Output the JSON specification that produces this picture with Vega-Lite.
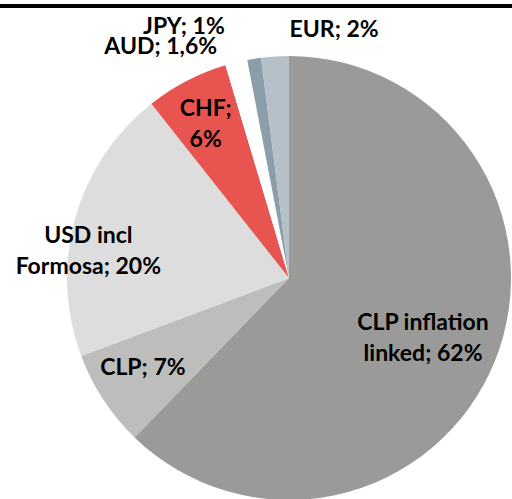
{
  "$schema": "https://vega.github.io/schema/vega-lite/v6.json",
  "padding": 0,
  "bounds": "flush",
  "spacing": 48,
  "config": {"view": {"stroke": null}},
  "datasets": {
    "shares": [
      {"k": 1, "currency": "CLP inflation linked", "share": 62, "label": "CLP inflation\nlinked; 62%"},
      {"k": 2, "currency": "CLP", "share": 7, "label": "CLP; 7%"},
      {"k": 3, "currency": "USD incl Formosa", "share": 20, "label": "USD incl\nFormosa; 20%"},
      {"k": 4, "currency": "CHF", "share": 6, "label": "CHF;\n6%"},
      {"k": 5, "currency": "AUD", "share": 1.6, "label": "AUD; 1,6%"},
      {"k": 6, "currency": "JPY", "share": 1, "label": "JPY; 1%"},
      {"k": 7, "currency": "EUR", "share": 2, "label": "EUR; 2%"}
    ]
  },
  "vconcat": [
    {
      "width": 512,
      "height": 4,
      "view": {"fill": "#000000", "stroke": null},
      "data": {"values": [{}]},
      "mark": {"type": "text", "text": ""}
    },
    {
      "spacing": 0,
      "bounds": "flush",
      "hconcat": [
        {
          "width": 67,
          "height": 444,
          "data": {"values": [{}]},
          "mark": {"type": "text", "text": ""}
        },
        {
          "width": 444,
          "height": 444,
          "data": {"name": "shares"},
          "encoding": {
            "theta": {"field": "share", "type": "quantitative", "stack": true},
            "order": {"field": "k", "type": "quantitative"}
          },
          "layer": [
            {
              "mark": {"type": "arc", "stroke": null},
              "encoding": {
                "color": {
                  "field": "currency",
                  "type": "nominal",
                  "legend": null,
                  "scale": {
                    "domain": ["CLP inflation linked", "CLP", "USD incl Formosa", "CHF", "AUD", "JPY", "EUR"],
                    "range": ["#9a9a99", "#bdbdbc", "#dddddd", "#e8544f", "#ffffff", "#8b9ea9", "#b5c0c8"]
                  }
                }
              }
            },
            {
              "mark": {"type": "text", "radius": 150, "dx": -5, "dy": -11, "font": "Lato", "fontWeight": "bold", "fontSize": 23, "lineBreak": "\n", "lineHeight": 31, "align": "center", "baseline": "middle", "color": "#000000"},
              "encoding": {"text": {"condition": {"test": "datum.k === 1", "field": "label"}, "value": ""}}
            },
            {
              "mark": {"type": "text", "radius": 173.5, "dx": -1, "dy": -5, "font": "Lato", "fontWeight": "bold", "fontSize": 23, "lineBreak": "\n", "lineHeight": 31, "align": "center", "baseline": "middle", "color": "#000000"},
              "encoding": {"text": {"condition": {"test": "datum.k === 2", "field": "label"}, "value": ""}}
            },
            {
              "mark": {"type": "text", "radius": 200, "dx": -8, "dy": 11.5, "font": "Lato", "fontWeight": "bold", "fontSize": 23, "lineBreak": "\n", "lineHeight": 31, "align": "center", "baseline": "middle", "color": "#000000"},
              "encoding": {"text": {"condition": {"test": "datum.k === 3", "field": "label"}, "value": ""}}
            },
            {
              "mark": {"type": "text", "radius": 172, "dx": -4, "dy": -16, "font": "Lato", "fontWeight": "bold", "fontSize": 23, "lineBreak": "\n", "lineHeight": 31, "align": "center", "baseline": "middle", "color": "#000000"},
              "encoding": {"text": {"condition": {"test": "datum.k === 4", "field": "label"}, "value": ""}}
            },
            {
              "mark": {"type": "text", "radius": 235, "dx": -16, "dy": -3, "font": "Lato", "fontWeight": "bold", "fontSize": 23, "align": "right", "baseline": "middle", "color": "#000000"},
              "encoding": {"text": {"condition": {"test": "datum.k === 5", "field": "label"}, "value": ""}}
            },
            {
              "mark": {"type": "text", "radius": 250, "dx": -25, "dy": -4, "font": "Lato", "fontWeight": "bold", "fontSize": 23, "align": "right", "baseline": "middle", "color": "#000000"},
              "encoding": {"text": {"condition": {"test": "datum.k === 6", "field": "label"}, "value": ""}}
            },
            {
              "mark": {"type": "text", "radius": 245, "dx": 16, "dy": -3, "font": "Lato", "fontWeight": "bold", "fontSize": 23, "align": "left", "baseline": "middle", "color": "#000000"},
              "encoding": {"text": {"condition": {"test": "datum.k === 7", "field": "label"}, "value": ""}}
            }
          ]
        }
      ]
    }
  ]
}
